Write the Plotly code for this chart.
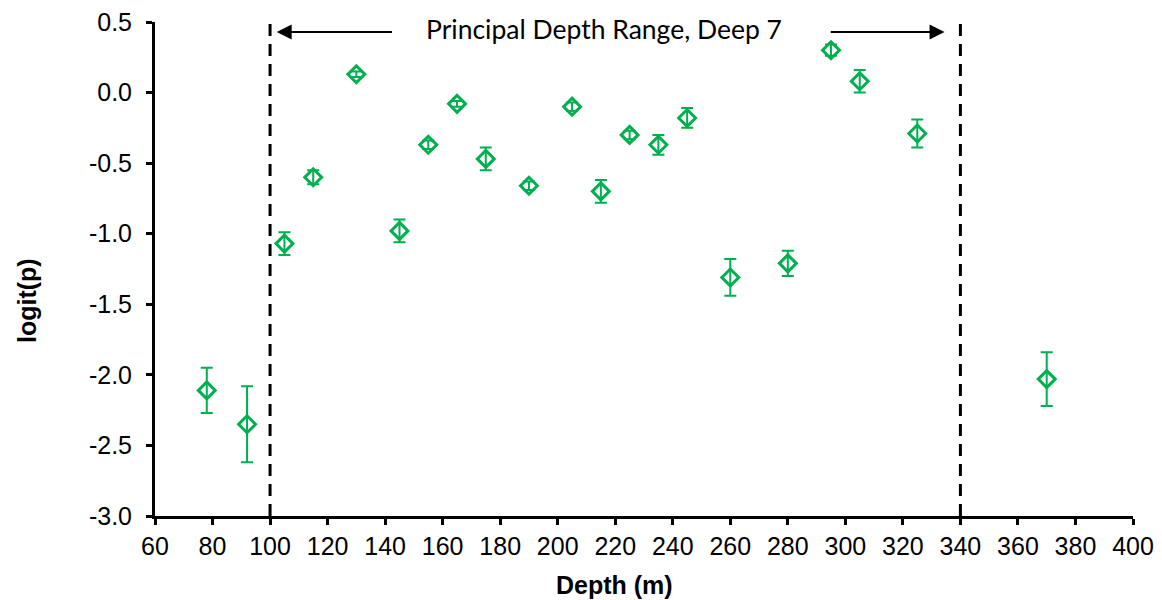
import plotly.graph_objects as go

depth = [78, 92, 105, 115, 130, 145, 155, 165, 175, 190, 205, 215, 225, 235, 245, 260, 280, 295, 305, 325, 370]
logit_p = [-2.11, -2.35, -1.07, -0.60, 0.13, -0.98, -0.37, -0.08, -0.47, -0.66, -0.10, -0.70, -0.30, -0.37, -0.18, -1.31, -1.21, 0.30, 0.08, -0.29, -2.03]
err = [0.16, 0.27, 0.08, 0.05, 0.02, 0.08, 0.03, 0.02, 0.08, 0.03, 0.03, 0.08, 0.03, 0.07, 0.07, 0.13, 0.09, 0.04, 0.08, 0.10, 0.19]

x_ticks = [60, 80, 100, 120, 140, 160, 180, 200, 220, 240, 260, 280, 300, 320, 340, 360, 380, 400]
y_ticks = [0.5, 0.0, -0.5, -1.0, -1.5, -2.0, -2.5, -3.0]
y_tick_text = ["0.5", "0.0", "-0.5", "-1.0", "-1.5", "-2.0", "-2.5", "-3.0"]

range_start, range_end = 100, 340
label = "Principal Depth Range, Deep 7"
green = "#00B050"

fig = go.Figure()
fig.add_trace(go.Scatter(
    x=depth, y=logit_p, mode="markers",
    marker=dict(symbol="diamond-open", size=13, color=green, line=dict(width=3, color=green)),
    error_y=dict(type="data", array=err, visible=True, color=green, thickness=2, width=6),
    showlegend=False, cliponaxis=False,
))

for xv in (range_start, range_end):
    fig.add_shape(type="line", xref="x", yref="paper", x0=xv, x1=xv, y0=0, y1=1.01,
                  line=dict(color="black", width=3, dash="12px,8px"))

fig.add_annotation(x=102.3, y=0.43, ax=142.9, ay=0.43, xref="x", yref="y", axref="x", ayref="y",
                   text="", showarrow=True, arrowhead=2, arrowsize=1.5, arrowwidth=2, arrowcolor="black")
fig.add_annotation(x=334.5, y=0.43, ax=294.4, ay=0.43, xref="x", yref="y", axref="x", ayref="y",
                   text="", showarrow=True, arrowhead=2, arrowsize=1.5, arrowwidth=2, arrowcolor="black")
fig.add_annotation(x=216, y=0.45, xref="x", yref="y", text=label, showarrow=False,
                   font=dict(family="Lato", size=26.5, color="black"))

title_font = dict(family="Arial", size=25, color="black")
fig.add_annotation(x=0, y=0.5, xref="paper", yref="paper", text="<b>logit(p)</b>", textangle=-90,
                   showarrow=False, xanchor="center", yanchor="middle", xshift=-128, yshift=-32, font=title_font)
fig.add_annotation(x=0.5, y=0, xref="paper", yref="paper", text="<b>Depth (m)</b>",
                   showarrow=False, xanchor="center", yanchor="middle", xshift=-30, yshift=-69, font=title_font)

axis_font = dict(family="Arial", size=25, color="black")
fig.update_layout(
    width=1154, height=592,
    margin=dict(l=147, r=29, t=14, b=84, autoexpand=False),
    plot_bgcolor="white", paper_bgcolor="white",
    font=dict(family="Arial"),
    xaxis=dict(range=[60, 400], tickmode="array", tickvals=x_ticks, ticklabeloverflow="allow", automargin=False,
               showline=True, linecolor="black", linewidth=3, ticks="outside", ticklen=6, tickwidth=3,
               tickcolor="black", showgrid=False, zeroline=False, tickfont=axis_font, ticklabelstandoff=0),
    yaxis=dict(range=[-3, 0.5], tickmode="array", tickvals=y_ticks, ticktext=y_tick_text, ticklabeloverflow="allow",
               automargin=False,
               showline=True, linecolor="black", linewidth=3, ticks="outside", ticklen=6, tickwidth=3,
               tickcolor="black", showgrid=False, zeroline=False, tickfont=axis_font, ticklabelstandoff=9),
)

fig.write_html("out.html")
